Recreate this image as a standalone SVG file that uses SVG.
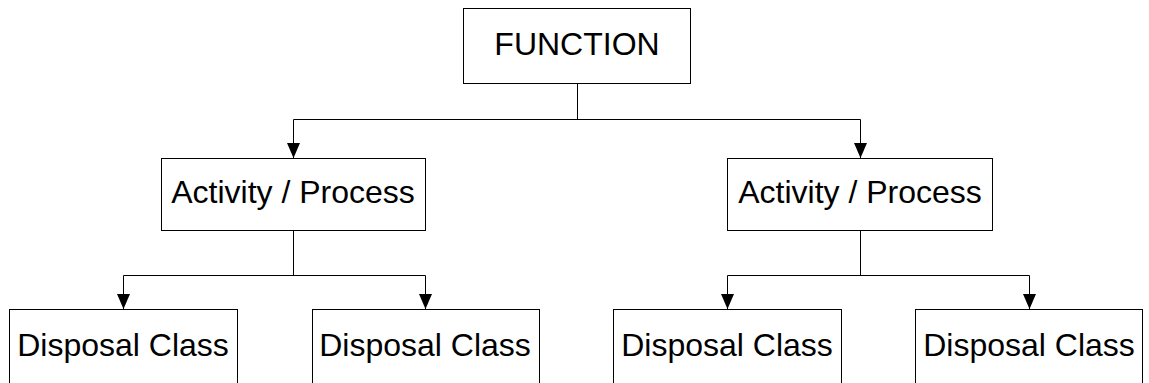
<svg xmlns="http://www.w3.org/2000/svg" width="1149" height="383" viewBox="0 0 1149 383">
<style>
.box{fill:#fff;stroke:#000;stroke-width:1}
.lbl{font-family:"Liberation Sans",Arial,sans-serif;font-size:32px;fill:#000;text-anchor:middle}
.con{fill:none;stroke:#000;stroke-width:1}
</style>
<defs>
<marker id="arr" markerWidth="15" markerHeight="13" refX="15" refY="6.5" orient="auto" markerUnits="userSpaceOnUse" viewBox="0 0 15 13">
<path d="M0,0 L15,6.5 L0,13 Z" fill="#000"/>
</marker>
</defs>
<rect width="1149" height="383" fill="#fff"/>
<g id="connectors">
<path class="con" d="M577.5,83 V119.5 M293.5,119.5 H860.5"/>
<path class="con" d="M293.5,119.5 V158" marker-end="url(#arr)"/>
<path class="con" d="M860.5,119.5 V158" marker-end="url(#arr)"/>
<path class="con" d="M293.5,230 V275.5 M123.5,275.5 H425.5"/>
<path class="con" d="M123.5,275.5 V309" marker-end="url(#arr)"/>
<path class="con" d="M425.5,275.5 V309" marker-end="url(#arr)"/>
<path class="con" d="M860.5,230 V275.5 M727.5,275.5 H1029.5"/>
<path class="con" d="M727.5,275.5 V309" marker-end="url(#arr)"/>
<path class="con" d="M1029.5,275.5 V309" marker-end="url(#arr)"/>
</g>
<g id="function">
<rect class="box" x="463.5" y="8.5" width="227" height="75"/>
<text class="lbl" x="577" y="55">FUNCTION</text>
</g>
<g id="activity1">
<rect class="box" x="161.5" y="158.5" width="264" height="72"/>
<text class="lbl" x="293" y="203">Activity / Process</text>
</g>
<g id="activity2">
<rect class="box" x="727.5" y="158.5" width="265" height="72"/>
<text class="lbl" x="860" y="203">Activity / Process</text>
</g>
<g id="disposal1">
<rect class="box" x="9.5" y="309.5" width="228" height="90"/>
<text class="lbl" x="123" y="356">Disposal Class</text>
</g>
<g id="disposal2">
<rect class="box" x="312.5" y="309.5" width="227" height="90"/>
<text class="lbl" x="425" y="356">Disposal Class</text>
</g>
<g id="disposal3">
<rect class="box" x="613.5" y="309.5" width="228" height="90"/>
<text class="lbl" x="727" y="356">Disposal Class</text>
</g>
<g id="disposal4">
<rect class="box" x="915.5" y="309.5" width="227" height="90"/>
<text class="lbl" x="1029" y="356">Disposal Class</text>
</g>
</svg>
